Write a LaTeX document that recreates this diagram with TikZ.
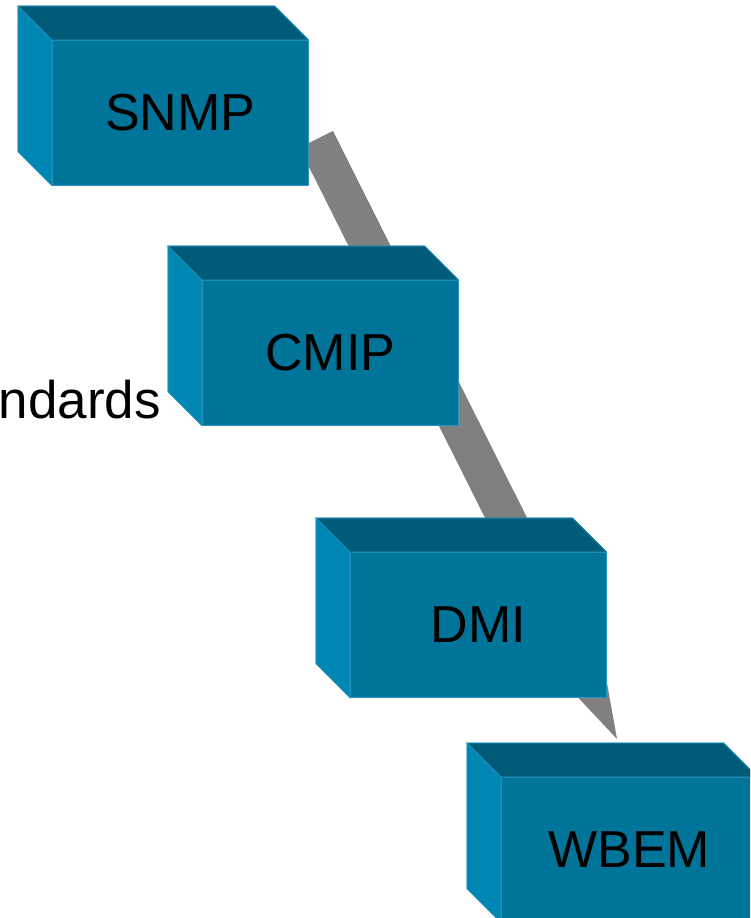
\documentclass[tikz,border=0pt]{standalone}
\usepackage{fontspec}
\setmainfont{Liberation Sans}
\definecolor{facefront}{RGB}{0,116,153}
\definecolor{facetop}{RGB}{0,91,121}
\definecolor{faceleft}{RGB}{0,134,179}
\definecolor{faceedge}{RGB}{40,150,190}
\definecolor{bandgray}{RGB}{128,128,128}
\tikzset{
  boxfront/.style={rectangle, fill=facefront, draw=faceedge, line width=0.6pt,
    minimum width=256pt, minimum height=145pt, inner sep=0pt, anchor=north west,
    font=\fontsize{52}{62}\selectfont, text=black},
  boxtop/.style={fill=facetop, draw=faceedge, line width=0.6pt},
  boxside/.style={fill=faceleft, draw=faceedge, line width=0.6pt},
  label/.style={font=\fontsize{53}{63}\selectfont, text=black, inner sep=0pt}
}
% draws the top and left faces of a box node, depth 34 up and to the left
\newcommand{\boxfaces}[1]{%
  \fill[boxtop] (#1.north west) -- ++(-34,-34) -- ($(#1.north east)+(-34,-34)$) -- (#1.north east) -- cycle;
  \fill[boxside] (#1.north west) -- ++(-34,-34) -- ($(#1.south west)+(-34,-34)$) -- (#1.south west) -- cycle;
  \draw[boxtop] (#1.north west) -- ++(-34,-34) -- ($(#1.north east)+(-34,-34)$) -- (#1.north east) -- cycle;
  \draw[boxside] (#1.north west) -- ++(-34,-34) -- ($(#1.south west)+(-34,-34)$) -- (#1.south west) -- cycle;
}
\usetikzlibrary{calc}
\begin{document}
\begin{tikzpicture}[x=1pt, y=-1pt]
  \useasboundingbox (0,0) rectangle (750,918);
  \clip (0,0) rectangle (750,918);

  % broad gray arrow running behind the boxes
  \coordinate (tailR) at (333,131);
  \coordinate (tailL) at (299.3,147.7);
  \coordinate (shaftR) at (580,623.3);
  \coordinate (shaftL) at (546.4,640.1);
  \coordinate (headR) at (595,615.7);
  \coordinate (headL) at (531.4,647.7);
  \coordinate (tip) at (617,739);
  \fill[bandgray] (tailR) -- (shaftR) -- (headR) -- (tip) -- (headL) -- (shaftL) -- (tailL) -- cycle;

  % the four boxes
  \node[boxfront] (snmp) at (52,40) {SNMP};
  \boxfaces{snmp}
  \node[boxfront] (cmip) at (202,280) {CMIP};
  \boxfaces{cmip}
  \node[boxfront] (dmi) at (350,552) {DMI};
  \boxfaces{dmi}
  \node[boxfront] (wbem) at (501,777) {WBEM};
  \boxfaces{wbem}

  % side caption
  \node[label, anchor=base east] (caption) at (161,418) {ndards};
\end{tikzpicture}
\end{document}
